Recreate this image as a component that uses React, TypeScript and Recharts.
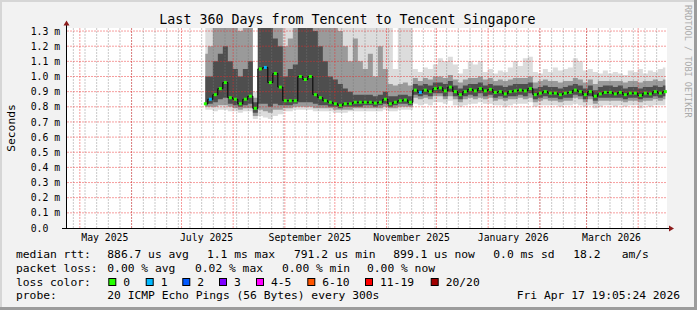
import React from 'react'
import { ComposedChart, Area, Line, XAxis, YAxis, CartesianGrid, ReferenceLine } from 'recharts'

// days since the left edge of the graph (Apr 22 2025 19:05)
const days = [
  83, 86, 89, 92, 95, 98, 101, 104, 107, 110,
  113, 116, 119, 122, 125, 128, 131, 134, 137, 140,
  143, 146, 149, 152, 155, 158, 161, 164, 167, 170,
  173, 176, 179, 182, 185, 188, 191, 194, 197, 200,
  203, 206, 209, 212, 215, 218, 221, 224, 227, 230,
  233, 236, 239, 242, 245, 248, 251, 254, 257, 260,
  263, 266, 269, 272, 275, 278, 281, 284, 287, 290,
  293, 296, 299, 302, 305, 308, 311, 314, 317, 320,
  323, 326, 329, 332, 335, 338, 341, 344, 347, 350,
  353, 356, 359,
]

// median rtt in ms
const median = [
  0.82, 0.85, 0.88, 0.92, 0.96, 0.86, 0.85, 0.82, 0.85, 0.87,
  0.79, 1.05, 1.06, 0.96, 1.02, 0.93, 0.84, 0.84, 0.84, 1.0,
  0.98, 1.0, 0.88, 0.86, 0.84, 0.83, 0.82, 0.81, 0.82, 0.82,
  0.83, 0.83, 0.83, 0.83, 0.825, 0.83, 0.85, 0.82, 0.83, 0.84,
  0.845, 0.83, 0.91, 0.895, 0.91, 0.9, 0.92, 0.925, 0.905, 0.93,
  0.9, 0.88, 0.9, 0.915, 0.905, 0.92, 0.905, 0.915, 0.895, 0.9,
  0.885, 0.9, 0.905, 0.91, 0.905, 0.92, 0.88, 0.89, 0.9, 0.89,
  0.89, 0.88, 0.89, 0.895, 0.91, 0.9, 0.88, 0.9, 0.87, 0.885,
  0.895, 0.895, 0.885, 0.895, 0.88, 0.89, 0.89, 0.875, 0.89, 0.885,
  0.9, 0.89, 0.9,
]

// lost pings out of 20 (index into lossColors)
const loss = [
  0, 1, 0, 0, 0, 0, 0, 0, 0, 0,
  0, 0, 1, 0, 0, 0, 0, 0, 0, 0,
  0, 0, 0, 0, 0, 0, 0, 0, 0, 0,
  0, 0, 0, 0, 0, 0, 0, 0, 0, 0,
  0, 0, 0, 1, 0, 0, 0, 0, 0, 0,
  0, 0, 0, 0, 0, 0, 0, 0, 0, 0,
  0, 0, 0, 0, 0, 0, 0, 0, 0, 0,
  0, 0, 0, 0, 0, 0, 0, 0, 0, 0,
  0, 0, 0, 0, 0, 0, 0, 0, 0, 0,
  0, 0, 0,
]

// smoke: fastest / slowest ping and inner percentiles
const pingMin = [
  0.78, 0.78, 0.77, 0.78, 0.78, 0.77, 0.77, 0.76, 0.77, 0.77,
  0.72, 0.74, 0.73, 0.72, 0.74, 0.75, 0.77, 0.77, 0.78, 0.78,
  0.78, 0.78, 0.77, 0.77, 0.77, 0.77, 0.76, 0.76, 0.76, 0.77,
  0.77, 0.77, 0.77, 0.77, 0.77, 0.77, 0.78, 0.77, 0.77, 0.78,
  0.78, 0.78, 0.82, 0.81, 0.82, 0.81, 0.83, 0.83, 0.82, 0.84,
  0.81, 0.8, 0.81, 0.82, 0.82, 0.83, 0.82, 0.82, 0.81, 0.81,
  0.8, 0.81, 0.82, 0.82, 0.82, 0.83, 0.8, 0.81, 0.81, 0.81,
  0.81, 0.8, 0.81, 0.81, 0.82, 0.81, 0.8, 0.81, 0.79, 0.8,
  0.81, 0.81, 0.8, 0.81, 0.8, 0.81, 0.81, 0.79, 0.81, 0.8,
  0.81, 0.81, 0.81,
]
const pingLowMid = [
  0.8, 0.8, 0.8, 0.81, 0.81, 0.8, 0.79, 0.78, 0.79, 0.79,
  0.74, 0.78, 0.77, 0.76, 0.78, 0.78, 0.79, 0.79, 0.8, 0.8,
  0.8, 0.8, 0.79, 0.79, 0.79, 0.79, 0.78, 0.78, 0.78, 0.78,
  0.79, 0.79, 0.79, 0.79, 0.79, 0.79, 0.8, 0.79, 0.79, 0.8,
  0.8, 0.8, 0.86, 0.85, 0.86, 0.85, 0.87, 0.87, 0.85, 0.87,
  0.85, 0.83, 0.85, 0.86, 0.85, 0.86, 0.85, 0.86, 0.84, 0.85,
  0.84, 0.85, 0.85, 0.86, 0.85, 0.86, 0.83, 0.84, 0.85, 0.84,
  0.84, 0.83, 0.84, 0.84, 0.86, 0.85, 0.83, 0.85, 0.82, 0.84,
  0.84, 0.84, 0.84, 0.84, 0.83, 0.84, 0.84, 0.83, 0.84, 0.84,
  0.85, 0.84, 0.85,
]
const pingLowCore = [
  0.81, 0.82, 0.83, 0.85, 0.86, 0.82, 0.81, 0.8, 0.81, 0.82,
  0.76, 0.82, 0.82, 0.8, 0.82, 0.81, 0.81, 0.81, 0.82, 0.83,
  0.83, 0.83, 0.82, 0.81, 0.81, 0.8, 0.8, 0.79, 0.8, 0.8,
  0.8, 0.8, 0.81, 0.81, 0.8, 0.81, 0.82, 0.8, 0.81, 0.82,
  0.82, 0.81, 0.88, 0.87, 0.88, 0.87, 0.89, 0.89, 0.87, 0.9,
  0.87, 0.85, 0.87, 0.88, 0.87, 0.89, 0.87, 0.88, 0.86, 0.87,
  0.86, 0.87, 0.87, 0.88, 0.87, 0.89, 0.85, 0.86, 0.87, 0.86,
  0.86, 0.85, 0.86, 0.86, 0.88, 0.87, 0.85, 0.87, 0.84, 0.86,
  0.86, 0.86, 0.86, 0.86, 0.85, 0.86, 0.86, 0.85, 0.86, 0.86,
  0.87, 0.86, 0.87,
]
const pingHighCore = [
  1.0, 1.0, 1.1, 1.15, 1.2, 1.1, 1.05, 1.0, 1.05, 1.1,
  0.83, 1.4, 1.4, 1.4, 1.25, 1.2, 1.0, 1.05, 1.08, 1.4,
  1.4, 1.4, 1.3, 1.2, 1.1, 1.0, 0.98, 0.95, 0.92, 0.9,
  0.88, 0.88, 0.88, 0.88, 0.87, 0.88, 0.9, 0.87, 0.87, 0.88,
  0.88, 0.87, 0.95, 0.94, 0.95, 0.94, 0.96, 0.96, 0.95, 0.97,
  0.94, 0.92, 0.94, 0.95, 0.95, 0.96, 0.94, 0.95, 0.94, 0.94,
  0.93, 0.94, 0.95, 0.95, 0.95, 0.96, 0.92, 0.93, 0.94, 0.93,
  0.93, 0.92, 0.93, 0.94, 0.95, 0.94, 0.92, 0.94, 0.91, 0.93,
  0.94, 0.94, 0.93, 0.94, 0.92, 0.93, 0.93, 0.92, 0.93, 0.93,
  0.94, 0.93, 0.94,
]
const pingHighMid = [
  1.15, 1.2, 1.4, 1.4, 1.4, 1.4, 1.4, 1.3, 1.4, 1.4,
  0.86, 1.4, 1.4, 1.4, 1.4, 1.4, 1.2, 1.25, 1.4, 1.4,
  1.4, 1.4, 1.4, 1.4, 1.4, 1.4, 1.4, 1.3, 1.2, 1.1,
  1.25, 1.1, 1.05, 1.15, 1.0, 1.2, 1.05, 0.95, 0.94, 0.95,
  0.96, 0.94, 0.99, 0.97, 0.99, 0.98, 1.0, 1.0, 0.99, 1.01,
  0.98, 0.96, 0.98, 0.99, 0.99, 1.0, 0.98, 0.99, 0.97, 0.98,
  0.97, 0.98, 0.99, 0.99, 0.99, 1.0, 0.96, 0.97, 0.98, 0.97,
  0.97, 0.96, 0.97, 0.97, 0.99, 0.98, 0.96, 0.98, 0.95, 0.97,
  0.97, 0.97, 0.97, 0.97, 0.96, 0.97, 0.97, 0.96, 0.97, 0.97,
  0.98, 0.97, 0.98,
]
const pingMax = [
  1.4, 1.4, 1.4, 1.4, 1.4, 1.4, 1.4, 1.4, 1.4, 1.4,
  0.9, 1.4, 1.4, 1.4, 1.4, 1.4, 1.4, 1.4, 1.4, 1.4,
  1.4, 1.4, 1.4, 1.4, 1.4, 1.4, 1.4, 1.4, 1.4, 1.4,
  1.4, 1.4, 1.4, 1.4, 1.4, 1.4, 1.4, 1.4, 1.05, 1.4,
  1.4, 1.4, 1.05, 1.03, 1.06, 1.05, 1.08, 1.12, 1.1, 1.13,
  1.08, 1.02, 1.05, 1.1, 1.08, 1.1, 1.03, 1.05, 1.02, 1.04,
  1.03, 1.06, 1.1, 1.07, 1.12, 1.13, 1.03, 1.02, 1.05, 1.03,
  1.06, 1.04, 1.05, 1.06, 1.12, 1.1, 1.04, 1.05, 1.03, 1.02,
  1.04, 1.02, 1.03, 1.02, 1.01, 1.04, 1.03, 1.05, 1.02, 1.04,
  1.03, 1.05, 1.06,
]

const yTicks = [0, 0.1, 0.2, 0.3, 0.4, 0.5, 0.6, 0.7, 0.8, 0.9, 1.0, 1.1, 1.2, 1.3]
const monthStarts = [7.7, 38.7, 68.7, 99.7, 130.7, 160.7, 191.7, 221.7, 252.7, 283.7, 311.7, 342.7]
const labelDays = [22.7, 83.7, 145.7, 206.7, 267.7, 326.7]
const labelTexts = ['May 2025', 'July 2025', 'September 2025', 'November 2025', 'January 2026', 'March 2026']
const weekLines = Array.from({ length: 51 }, (_, i) => 3.8 + i * 7)

const lossColors = ['#26ff00', '#00b8ff', '#0059ff', '#7e00ff', '#ff00ff', '#ff5500', '#ff0000', '#a10000']
const lossLabels = ['0', '1', '2', '3', '4-5', '6-10', '11-19', '20/20']
const lossBoxX = [108.3, 145.7, 182.3, 219, 256, 307.3, 365, 430.7]

const data = days.map((day, i) => ({
  day,
  median: median[i],
  loss: loss[i],
  outer: [pingMin[i], pingMax[i]],
  mid: [pingLowMid[i], pingHighMid[i]],
  core: [pingLowCore[i], pingHighCore[i]],
}))

const MONO = 'DejaVu Sans Mono'
const LEGEND_SIZE = 11.3
const gridRed = 'rgba(235,40,40,0.45)'
const gridGray = 'rgba(120,120,120,0.4)'

const YTick = (props: any) => {
  const v = props.payload.value as number
  return (
    <text x={30.7} y={props.y + 3.6} fontFamily={MONO} fontSize={9.8} fill="#000">
      {v === 0 ? '0.0' : `${v.toFixed(1)} m`}
    </text>
  )
}

const XTick = (props: any) => {
  const idx = labelDays.indexOf(props.payload.value)
  return (
    <text x={props.x} y={241} textAnchor="middle" fontFamily={MONO} fontSize={9.8} fill="#000">
      {labelTexts[idx]}
    </text>
  )
}

const MedianDot = (props: any) => {
  const { cx, cy, index, payload } = props
  if (cx == null || cy == null) return <g key={index} />
  return <rect key={index} x={cx - 1.5} y={cy - 1.5} width={3} height={3} fill={lossColors[payload.loss]} />
}

const legendRows = [
  { y: 258, items: [[16, 'median rtt:'], [107.3, '886.7 us avg'], [207, '1.1 ms max'], [294, '791.2 us min'], [393.3, '899.1 us now'], [493.3, '0.0 ms sd'], [573.3, '18.2'], [621.7, 'am/s']] },
  { y: 271.7, items: [[16, 'packet loss:'], [107.3, '0.00 % avg'], [195, '0.02 % max'], [282, '0.00 % min'], [367, '0.00 % now']] },
  { y: 285.5, items: [[16, 'loss color:']] },
  { y: 299, items: [[16, 'probe:'], [107.3, '20 ICMP Echo Pings (56 Bytes) every 300s']] },
] as { y: number; items: [number, string][] }[]

export default function App() {
  return (
    <div style={{ position: 'absolute', left: 0, top: 0, width: 697, height: 310, background: '#f2f2f2', overflow: 'hidden' }}>
      <ComposedChart
        width={697}
        height={310}
        data={data}
        margin={{ top: 28, right: 30, bottom: 62, left: 0 }}
        style={{ position: 'absolute', left: 0, top: 0 }}
      >
        <CartesianGrid horizontal={false} vertical={false} fill="#ffffff" />
        <XAxis
          dataKey="day"
          type="number"
          domain={[0, 360]}
          ticks={labelDays}
          interval={0}
          tick={XTick}
          axisLine={false}
          tickLine={false}
          height={20}
          allowDataOverflow
        />
        <YAxis
          type="number"
          domain={[0, 1.3201]}
          ticks={yTicks}
          interval={0}
          tick={YTick}
          axisLine={false}
          tickLine={false}
          width={67}
          allowDataOverflow
        />
        <Area type="step" dataKey="outer" stroke="none" fill="#dcdcdc" fillOpacity={1} isAnimationActive={false} />
        <Area type="step" dataKey="mid" stroke="none" fill="#9a9a9a" fillOpacity={1} isAnimationActive={false} />
        <Area type="step" dataKey="core" stroke="none" fill="#4e4e4e" fillOpacity={1} isAnimationActive={false} />
        {weekLines.map(d => (
          <ReferenceLine key={`w${d}`} x={d} stroke={gridGray} strokeDasharray="2 1" />
        ))}
        {monthStarts.map(d => (
          <ReferenceLine key={`m${d}`} x={d} stroke={gridRed} strokeDasharray="2 1" />
        ))}
        {yTicks.filter(v => v > 0).map(v => (
          <ReferenceLine key={`h${v}`} y={v} stroke={gridRed} strokeDasharray="2 1" />
        ))}
        <Line
          type="step"
          dataKey="median"
          stroke="#000"
          strokeWidth={1}
          dot={MedianDot}
          activeDot={false}
          isAnimationActive={false}
        />
      </ComposedChart>

      <svg width={697} height={310} style={{ position: 'absolute', left: 0, top: 0, pointerEvents: 'none' }}>
        <rect x={0} y={0} width={697} height={2} fill="#d6d6d6" />
        <rect x={0} y={0} width={2} height={310} fill="#d6d6d6" />
        <rect x={694} y={0} width={3} height={310} fill="#9c9c9c" />
        <rect x={0} y={307} width={697} height={3} fill="#9c9c9c" />

        <text x={347.5} y={24} textAnchor="middle" fontFamily={MONO} fontSize={13.3} fill="#000">
          Last 360 Days from Tencent to Tencent Singapore
        </text>
        <text transform="translate(15,128) rotate(-90)" textAnchor="middle" fontFamily={MONO} fontSize={11.3} fill="#000">
          Seconds
        </text>
        <text transform="translate(685,5) rotate(90)" fontFamily={MONO} fontSize={8.5} fill="#aaaaaa">
          RRDTOOL / TOBI OETIKER
        </text>

        <line x1={66.5} y1={229} x2={66.5} y2={24} stroke="#000" strokeWidth={1} />
        <polygon points="63.5,25.5 69.5,25.5 66.5,20.5" fill="#8c1c1c" />
        <line x1={62} y1={228.5} x2={670} y2={228.5} stroke="#000" strokeWidth={1} />
        <polygon points="669,225.5 669,231.5 674,228.5" fill="#8c1c1c" />

        {legendRows.map(row =>
          row.items.map(([x, t]) => (
            <text key={`${row.y}-${x}`} x={x} y={row.y} fontFamily={MONO} fontSize={LEGEND_SIZE} fill="#000">
              {t}
            </text>
          ))
        )}
        <text x={680} y={299} textAnchor="end" fontFamily={MONO} fontSize={LEGEND_SIZE} fill="#000">
          Fri Apr 17 19:05:24 2026
        </text>
        {lossLabels.map((lab, i) => (
          <g key={lab}>
            <rect x={lossBoxX[i] + 0.5} y={278.5} width={7} height={7} fill={lossColors[i]} stroke="#000" strokeWidth={1} />
            <text x={lossBoxX[i] + 15} y={285.5} fontFamily={MONO} fontSize={LEGEND_SIZE} fill="#000">
              {lab}
            </text>
          </g>
        ))}
      </svg>
    </div>
  )
}
